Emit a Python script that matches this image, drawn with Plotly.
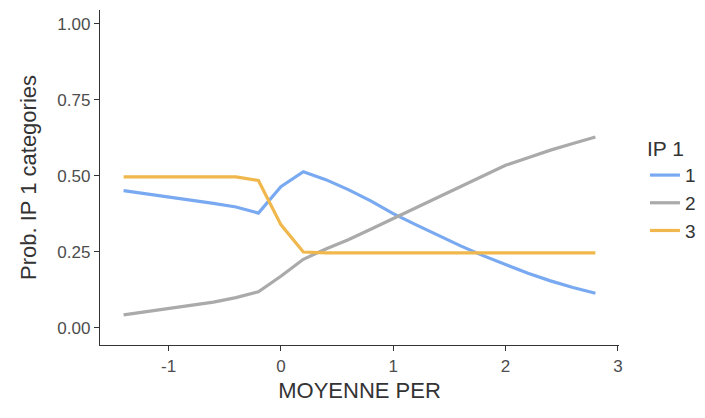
import plotly.graph_objects as go

x_vals = [-1.4, -1.0, -0.6, -0.4, -0.2, 0.0, 0.2, 0.4, 0.6, 0.8, 1.0,
          1.2, 1.4, 1.6, 1.8, 2.0, 2.2, 2.4, 2.6, 2.8]
prob_1 = [0.452, 0.432, 0.410, 0.398, 0.378, 0.465, 0.514, 0.488, 0.455, 0.418, 0.376,
          0.340, 0.305, 0.270, 0.238, 0.210, 0.180, 0.155, 0.133, 0.114]
prob_2 = [0.043, 0.063, 0.085, 0.100, 0.119, 0.170, 0.226, 0.260, 0.290, 0.325, 0.360,
          0.395, 0.430, 0.465, 0.500, 0.535, 0.560, 0.585, 0.607, 0.628]
prob_3 = [0.497, 0.497, 0.497, 0.497, 0.485, 0.340, 0.250, 0.247, 0.247, 0.247, 0.247,
          0.247, 0.247, 0.247, 0.247, 0.247, 0.247, 0.247, 0.247, 0.247]
series_names = ["1", "2", "3"]
colors = ["#79A9F0", "#AAAAAA", "#F0B84C"]
x_ticks = [-1, 0, 1, 2, 3]
x_ticklabels = ["-1", "0", "1", "2", "3"]
y_ticks = [0, 0.25, 0.5, 0.75, 1.0]
y_ticklabels = ["0.00", "0.25", "0.50", "0.75", "1.00"]

fig = go.Figure()
for name, ys, c in zip(series_names, [prob_1, prob_2, prob_3], colors):
    fig.add_trace(go.Scatter(x=x_vals, y=ys, mode="lines", name=name,
                             line=dict(color=c, width=3.2)))

FONT = "Liberation Sans, Arial"
axis_common = dict(showgrid=False, zeroline=False, showline=True, linecolor="#333333",
                   linewidth=1.3, ticks="outside", ticklen=5, tickcolor="#333333",
                   tickwidth=1.3,
                   tickfont=dict(family=FONT, size=17, color="#4D4D4D"))

fig.update_layout(
    width=697, height=410,
    paper_bgcolor="white", plot_bgcolor="white",
    margin=dict(l=92, r=86, t=2, b=73),
    font=dict(family=FONT, color="#333333"),
    xaxis=dict(range=[-1.61, 3.01], tickvals=x_ticks, ticktext=x_ticklabels,
               title=dict(text="MOYENNE PER", font=dict(size=22, color="#333333"), standoff=8),
               **axis_common),
    yaxis=dict(range=[-0.056, 1.046], tickvals=y_ticks, ticktext=y_ticklabels,
               title=dict(text="Prob. IP 1 categories", font=dict(size=22, color="#333333"), standoff=14),
               **axis_common),
    legend=dict(title=dict(text="IP 1", font=dict(size=21, color="#333333")),
                font=dict(size=19, color="#333333"),
                x=1.05, xanchor="left", y=0.645, yanchor="top",
                tracegroupgap=0, itemwidth=30, bgcolor="rgba(0,0,0,0)"),
)
fig.write_html("out.html")
